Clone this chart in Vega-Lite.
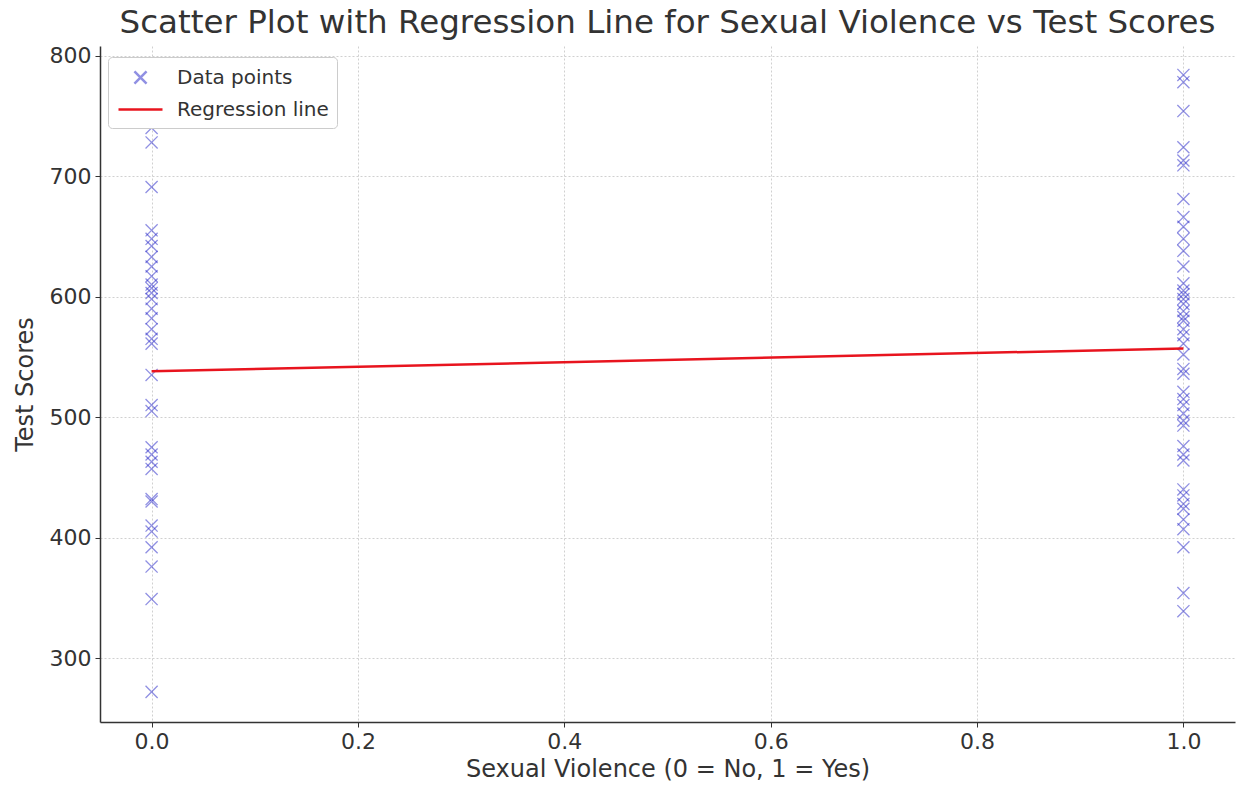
{
  "$schema": "https://vega.github.io/schema/vega-lite/v6.json",
  "autosize": "none",
  "width": 1135,
  "height": 676,
  "padding": {"left": 100, "top": 46, "right": 4, "bottom": 66},
  "background": "white",
  "config": {
    "font": "DejaVu Sans",
    "view": {"stroke": null},
    "axis": {
      "labelFont": "DejaVu Sans",
      "titleFont": "DejaVu Sans",
      "labelFontSize": 22,
      "titleFontSize": 24,
      "titleFontWeight": "normal",
      "labelColor": "#333333",
      "titleColor": "#333333",
      "domainColor": "#333333",
      "domainWidth": 1.5,
      "tickColor": "#333333",
      "tickSize": 5,
      "grid": true,
      "gridColor": "#d0d0d0",
      "gridDash": [2, 2],
      "gridWidth": 1
    }
  },
  "title": {
    "text": "Scatter Plot with Regression Line for Sexual Violence vs Test Scores",
    "font": "DejaVu Sans",
    "fontSize": 32.5,
    "fontWeight": "normal",
    "color": "#333333",
    "anchor": "middle",
    "offset": 5
  },
  "datasets": {
    "points": [
      {"sv": 0, "score": 740, "series": "Data points"},
      {"sv": 0, "score": 728, "series": "Data points"},
      {"sv": 0, "score": 691, "series": "Data points"},
      {"sv": 0, "score": 655, "series": "Data points"},
      {"sv": 0, "score": 648, "series": "Data points"},
      {"sv": 0, "score": 642, "series": "Data points"},
      {"sv": 0, "score": 633, "series": "Data points"},
      {"sv": 0, "score": 625, "series": "Data points"},
      {"sv": 0, "score": 617, "series": "Data points"},
      {"sv": 0, "score": 610, "series": "Data points"},
      {"sv": 0, "score": 607, "series": "Data points"},
      {"sv": 0, "score": 603, "series": "Data points"},
      {"sv": 0, "score": 598, "series": "Data points"},
      {"sv": 0, "score": 590, "series": "Data points"},
      {"sv": 0, "score": 582, "series": "Data points"},
      {"sv": 0, "score": 573, "series": "Data points"},
      {"sv": 0, "score": 565, "series": "Data points"},
      {"sv": 0, "score": 561, "series": "Data points"},
      {"sv": 0, "score": 535, "series": "Data points"},
      {"sv": 0, "score": 510, "series": "Data points"},
      {"sv": 0, "score": 505, "series": "Data points"},
      {"sv": 0, "score": 475, "series": "Data points"},
      {"sv": 0, "score": 469, "series": "Data points"},
      {"sv": 0, "score": 463, "series": "Data points"},
      {"sv": 0, "score": 457, "series": "Data points"},
      {"sv": 0, "score": 432, "series": "Data points"},
      {"sv": 0, "score": 430, "series": "Data points"},
      {"sv": 0, "score": 410, "series": "Data points"},
      {"sv": 0, "score": 405, "series": "Data points"},
      {"sv": 0, "score": 392, "series": "Data points"},
      {"sv": 0, "score": 376, "series": "Data points"},
      {"sv": 0, "score": 349, "series": "Data points"},
      {"sv": 0, "score": 272, "series": "Data points"},
      {"sv": 1, "score": 784, "series": "Data points"},
      {"sv": 1, "score": 778, "series": "Data points"},
      {"sv": 1, "score": 754, "series": "Data points"},
      {"sv": 1, "score": 724, "series": "Data points"},
      {"sv": 1, "score": 713, "series": "Data points"},
      {"sv": 1, "score": 709, "series": "Data points"},
      {"sv": 1, "score": 681, "series": "Data points"},
      {"sv": 1, "score": 666, "series": "Data points"},
      {"sv": 1, "score": 658, "series": "Data points"},
      {"sv": 1, "score": 648, "series": "Data points"},
      {"sv": 1, "score": 638, "series": "Data points"},
      {"sv": 1, "score": 625, "series": "Data points"},
      {"sv": 1, "score": 611, "series": "Data points"},
      {"sv": 1, "score": 605, "series": "Data points"},
      {"sv": 1, "score": 602, "series": "Data points"},
      {"sv": 1, "score": 598, "series": "Data points"},
      {"sv": 1, "score": 594, "series": "Data points"},
      {"sv": 1, "score": 588, "series": "Data points"},
      {"sv": 1, "score": 583, "series": "Data points"},
      {"sv": 1, "score": 580, "series": "Data points"},
      {"sv": 1, "score": 573, "series": "Data points"},
      {"sv": 1, "score": 568, "series": "Data points"},
      {"sv": 1, "score": 561, "series": "Data points"},
      {"sv": 1, "score": 552, "series": "Data points"},
      {"sv": 1, "score": 540, "series": "Data points"},
      {"sv": 1, "score": 536, "series": "Data points"},
      {"sv": 1, "score": 521, "series": "Data points"},
      {"sv": 1, "score": 515, "series": "Data points"},
      {"sv": 1, "score": 510, "series": "Data points"},
      {"sv": 1, "score": 503, "series": "Data points"},
      {"sv": 1, "score": 497, "series": "Data points"},
      {"sv": 1, "score": 493, "series": "Data points"},
      {"sv": 1, "score": 476, "series": "Data points"},
      {"sv": 1, "score": 469, "series": "Data points"},
      {"sv": 1, "score": 464, "series": "Data points"},
      {"sv": 1, "score": 440, "series": "Data points"},
      {"sv": 1, "score": 435, "series": "Data points"},
      {"sv": 1, "score": 428, "series": "Data points"},
      {"sv": 1, "score": 424, "series": "Data points"},
      {"sv": 1, "score": 415, "series": "Data points"},
      {"sv": 1, "score": 407, "series": "Data points"},
      {"sv": 1, "score": 392, "series": "Data points"},
      {"sv": 1, "score": 354, "series": "Data points"},
      {"sv": 1, "score": 339, "series": "Data points"}
    ],
    "fit": [
      {"sv": 0, "score": 538, "series": "Regression line"},
      {"sv": 1, "score": 557, "series": "Regression line"}
    ]
  },
  "encoding": {
    "x": {
      "field": "sv",
      "type": "quantitative",
      "title": "Sexual Violence (0 = No, 1 = Yes)",
      "scale": {"domain": [-0.05, 1.05], "nice": false, "zero": false},
      "axis": {"values": [0, 0.2, 0.4, 0.6, 0.8, 1.0], "format": ".1f", "labelPadding": 4, "titlePadding": 5}
    },
    "y": {
      "field": "score",
      "type": "quantitative",
      "title": "Test Scores",
      "scale": {"domain": [247, 808], "nice": false, "zero": false},
      "axis": {"values": [300, 400, 500, 600, 700, 800], "labelPadding": 4, "titlePadding": 12}
    },
    "color": {
      "field": "series",
      "type": "nominal",
      "scale": {"domain": ["Data points", "Regression line"], "range": ["#2323c8", "#e8141e"]},
      "legend": {
        "title": null,
        "orient": "none",
        "legendX": 8,
        "legendY": 11,
        "padding": 8,
        "fillColor": "white",
        "strokeColor": "#cccccc",
        "cornerRadius": 4,
        "labelFontSize": 20,
        "labelFont": "DejaVu Sans",
        "labelColor": "#333333",
        "symbolSize": 484,
        "symbolStrokeWidth": 2.5,
        "symbolOffset": 12,
        "labelOffset": 24,
        "rowPadding": 8
      }
    },
    "opacity": {
      "field": "series",
      "type": "nominal",
      "scale": {"domain": ["Data points", "Regression line"], "range": [0.5, 1]}
    }
  },
  "layer": [
    {
      "data": {"name": "points"},
      "mark": {"type": "point", "filled": false, "size": 484, "strokeWidth": 1.3},
      "encoding": {
        "shape": {
          "field": "series",
          "type": "nominal",
          "scale": {"domain": ["Data points", "Regression line"], "range": ["M-0.55,-0.55L0.55,0.55M-0.55,0.55L0.55,-0.55", "M-2,0L2,0"]}
        }
      }
    },
    {
      "data": {"name": "fit"},
      "mark": {"type": "line", "strokeWidth": 2.5}
    }
  ]
}
